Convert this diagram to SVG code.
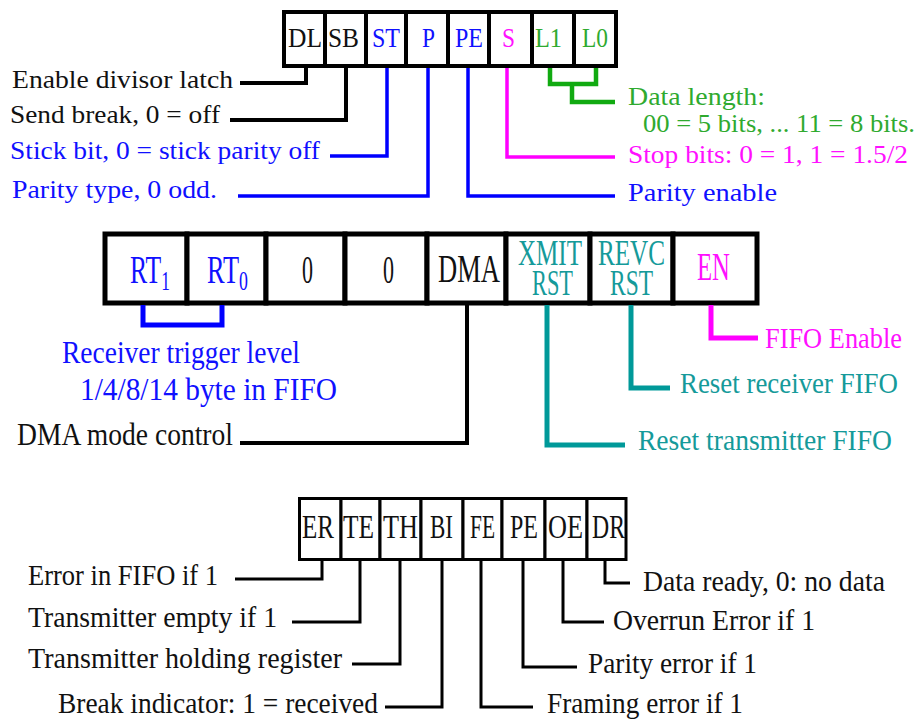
<svg xmlns="http://www.w3.org/2000/svg" width="918" height="722" viewBox="0 0 918 722">
<style>
text{font-family:"Liberation Serif","DejaVu Serif",serif;}
.k{fill:#111;} .b{fill:#1010ff;} .m{fill:#ff10ff;} .g{fill:#2faa2f;} .t{fill:#159a9a;}
.cell1 rect{fill:#fff;stroke:#000;stroke-width:4;}
.cell2 rect{fill:#fff;stroke:#000;stroke-width:5;}
.cell3 rect{fill:#fff;stroke:#000;stroke-width:3;}
.c1 text{font-size:27px;} .c2 text{font-size:40px;} .c2 .s{font-size:36px;}
.c3 text{font-size:33px;}
.l1{font-size:26px;} .l2{font-size:32px;} .l2r{font-size:29px;} .l3{font-size:29px;}
#connectors path{fill:none;stroke-linejoin:miter;stroke-linecap:butt;}
.wk{stroke:#000;} .wb{stroke:#0000ff;} .wm{stroke:#ff00ff;} .wg{stroke:#11aa11;} .wt{stroke:#009999;}
</style>

<!-- Top register: Line Control Register -->
<g id="lcr" class="cell1 c1">
<rect x="284" y="12" width="41" height="54"/>
<rect x="325" y="12" width="41" height="54"/>
<rect x="366" y="12" width="40" height="54"/>
<rect x="406" y="12" width="42" height="54"/>
<rect x="448" y="12" width="41" height="54"/>
<rect x="489" y="12" width="43" height="54"/>
<rect x="532" y="12" width="42" height="54"/>
<rect x="574" y="12" width="42" height="54"/>
<text class="k" x="288" y="47" textLength="34" lengthAdjust="spacingAndGlyphs">DL</text>
<text class="k" x="328" y="47" textLength="31" lengthAdjust="spacingAndGlyphs">SB</text>
<text class="b" x="372" y="47" textLength="28" lengthAdjust="spacingAndGlyphs">ST</text>
<text class="b" x="422" y="47" textLength="13" lengthAdjust="spacingAndGlyphs">P</text>
<text class="b" x="455" y="47" textLength="28" lengthAdjust="spacingAndGlyphs">PE</text>
<text class="m" x="502" y="47" textLength="13" lengthAdjust="spacingAndGlyphs">S</text>
<text class="g" x="535" y="47" textLength="27" lengthAdjust="spacingAndGlyphs">L1</text>
<text class="g" x="582" y="47" textLength="26" lengthAdjust="spacingAndGlyphs">L0</text>
</g>

<!-- Middle register: FIFO Control Register -->
<g id="fcr" class="cell2 c2">
<rect x="105" y="234" width="82" height="69"/>
<rect x="187" y="234" width="79" height="69"/>
<rect x="266" y="234" width="79" height="69"/>
<rect x="345" y="234" width="82" height="69"/>
<rect x="427" y="234" width="79" height="69"/>
<rect x="506" y="234" width="84" height="69"/>
<rect x="590" y="234" width="83" height="69"/>
<rect x="673" y="234" width="84" height="69"/>
<text class="b" x="130" y="283" textLength="40" lengthAdjust="spacingAndGlyphs">RT<tspan dy="7" font-size="27">1</tspan></text>
<text class="b" x="207" y="283" textLength="41" lengthAdjust="spacingAndGlyphs">RT<tspan dy="7" font-size="27">0</tspan></text>
<text class="k" x="302" y="283" textLength="11" lengthAdjust="spacingAndGlyphs">0</text>
<text class="k" x="383" y="283" textLength="11" lengthAdjust="spacingAndGlyphs">0</text>
<text class="k" x="438" y="282" textLength="62" lengthAdjust="spacingAndGlyphs">DMA</text>
<text class="t s"><tspan x="518" y="265" textLength="64" lengthAdjust="spacingAndGlyphs">XMIT</tspan><tspan x="532" y="295" textLength="41" lengthAdjust="spacingAndGlyphs">RST</tspan></text>
<text class="t s"><tspan x="598" y="265" textLength="67" lengthAdjust="spacingAndGlyphs">REVC</tspan><tspan x="610" y="295" textLength="43" lengthAdjust="spacingAndGlyphs">RST</tspan></text>
<text class="m" x="697" y="280" textLength="33" lengthAdjust="spacingAndGlyphs">EN</text>
</g>

<!-- Bottom register: Line Status Register -->
<g id="lsr" class="cell3 c3">
<rect x="299.5" y="498.5" width="41.5" height="61"/>
<rect x="341" y="498.5" width="39" height="61"/>
<rect x="380" y="498.5" width="41" height="61"/>
<rect x="421" y="498.5" width="42" height="61"/>
<rect x="463" y="498.5" width="39" height="61"/>
<rect x="502" y="498.5" width="43" height="61"/>
<rect x="545" y="498.5" width="42" height="61"/>
<rect x="587" y="498.5" width="39" height="61"/>
<text class="k" x="302" y="538" textLength="32" lengthAdjust="spacingAndGlyphs">ER</text>
<text class="k" x="343" y="538" textLength="31" lengthAdjust="spacingAndGlyphs">TE</text>
<text class="k" x="383" y="538" textLength="35" lengthAdjust="spacingAndGlyphs">TH</text>
<text class="k" x="430" y="538" textLength="23" lengthAdjust="spacingAndGlyphs">BI</text>
<text class="k" x="470" y="538" textLength="25" lengthAdjust="spacingAndGlyphs">FE</text>
<text class="k" x="510" y="538" textLength="28" lengthAdjust="spacingAndGlyphs">PE</text>
<text class="k" x="548" y="538" textLength="35" lengthAdjust="spacingAndGlyphs">OE</text>
<text class="k" x="592" y="538" textLength="33" lengthAdjust="spacingAndGlyphs">DR</text>
</g>

<g id="connectors">
<path class="wk" stroke-width="4" d="M306 68V83H240"/>
<path class="wk" stroke-width="4" d="M346 68V120H230"/>
<path class="wb" stroke-width="3.5" d="M387 68V156H330"/>
<path class="wb" stroke-width="3.5" d="M428 68V196H238"/>
<path class="wb" stroke-width="3.5" d="M468 68V196H615"/>
<path class="wm" stroke-width="3.5" d="M507 68V157H615"/>
<path class="wg" stroke-width="4.5" d="M550 68V84H596V68"/>
<path class="wg" stroke-width="4.5" d="M572 84V102H615"/>

<path class="wb" stroke-width="5" d="M143 305V325H222V305"/>
<path class="wk" stroke-width="4" d="M467 305V443H240"/>
<path class="wt" stroke-width="5" d="M547 305V445H625"/>
<path class="wt" stroke-width="5" d="M631 305V388H670"/>
<path class="wm" stroke-width="5" d="M711 305V338H758"/>

<path class="wk" stroke-width="3" d="M322 560V579H235"/>
<path class="wk" stroke-width="3" d="M360 560V622H292"/>
<path class="wk" stroke-width="3" d="M400 560V664H352"/>
<path class="wk" stroke-width="3" d="M442 560V707H385"/>
<path class="wk" stroke-width="3" d="M481 560V707H533"/>
<path class="wk" stroke-width="3" d="M523 560V667H577"/>
<path class="wk" stroke-width="3" d="M563 560V622H604"/>
<path class="wk" stroke-width="3" d="M605 560V583H630"/>
</g>

<g id="labels-lcr">
<text class="k l1" x="12" y="88" textLength="221" lengthAdjust="spacingAndGlyphs">Enable divisor latch</text>
<text class="k l1" x="10" y="123" textLength="210" lengthAdjust="spacingAndGlyphs">Send break, 0 = off</text>
<text class="b l1" x="10" y="159" textLength="310" lengthAdjust="spacingAndGlyphs">Stick bit, 0 = stick parity off</text>
<text class="b l1" x="12" y="198" textLength="205" lengthAdjust="spacingAndGlyphs">Parity type, 0 odd.</text>
<text class="g l1" x="628" y="105" textLength="137" lengthAdjust="spacingAndGlyphs">Data length:</text>
<text class="g l1" x="643" y="132" textLength="272" lengthAdjust="spacingAndGlyphs">00 = 5 bits, ... 11 = 8 bits.</text>
<text class="m l1" x="628" y="163" textLength="280" lengthAdjust="spacingAndGlyphs">Stop bits: 0 = 1, 1 = 1.5/2</text>
<text class="b l1" x="628" y="201" textLength="149" lengthAdjust="spacingAndGlyphs">Parity enable</text>
</g>

<g id="labels-fcr">
<text class="b l2" x="62" y="363" textLength="238" lengthAdjust="spacingAndGlyphs">Receiver trigger level</text>
<text class="b l2" x="80" y="400" textLength="257" lengthAdjust="spacingAndGlyphs">1/4/8/14 byte in FIFO</text>
<text class="k l2" x="17" y="445" textLength="216" lengthAdjust="spacingAndGlyphs">DMA mode control</text>
<text class="m l2r" x="765" y="348" textLength="137" lengthAdjust="spacingAndGlyphs">FIFO Enable</text>
<text class="t l2r" x="680" y="393" textLength="218" lengthAdjust="spacingAndGlyphs">Reset receiver FIFO</text>
<text class="t l2r" x="638" y="450" textLength="254" lengthAdjust="spacingAndGlyphs">Reset transmitter FIFO</text>
</g>

<g id="labels-lsr">
<text class="k l3" x="28" y="585" textLength="190" lengthAdjust="spacingAndGlyphs">Error in FIFO if 1</text>
<text class="k l3" x="28" y="627" textLength="249" lengthAdjust="spacingAndGlyphs">Transmitter empty if 1</text>
<text class="k l3" x="28" y="668" textLength="314" lengthAdjust="spacingAndGlyphs">Transmitter holding register</text>
<text class="k l3" x="58" y="713" textLength="320" lengthAdjust="spacingAndGlyphs">Break indicator: 1 = received</text>
<text class="k l3" x="547" y="713" textLength="196" lengthAdjust="spacingAndGlyphs">Framing error if 1</text>
<text class="k l3" x="588" y="673" textLength="169" lengthAdjust="spacingAndGlyphs">Parity error if 1</text>
<text class="k l3" x="613" y="630" textLength="202" lengthAdjust="spacingAndGlyphs">Overrun Error if 1</text>
<text class="k l3" x="643" y="591" textLength="242" lengthAdjust="spacingAndGlyphs">Data ready, 0: no data</text>
</g>
</svg>
